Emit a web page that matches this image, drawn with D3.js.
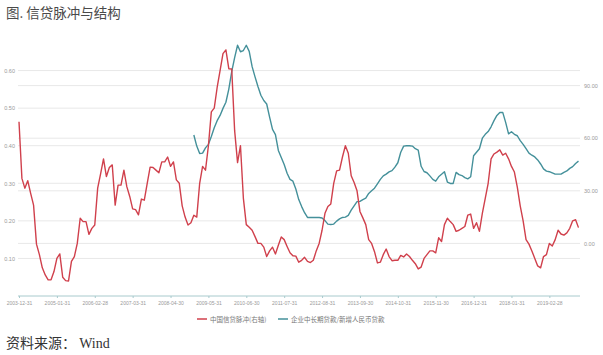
<!DOCTYPE html>
<html><head><meta charset="utf-8">
<script src="https://cdn.jsdelivr.net/npm/d3@7/dist/d3.min.js"></script>
<style>
html,body{margin:0;padding:0;background:#fff;}
svg{display:block;}
</style></head>
<body><svg id="c" width="603" height="355"></svg>
<script>
// ---- data ----
const startMonth = "2003-12-31";
const endMonth = "2019-12-31";
const tickLabels = ["2003-12-31","2005-01-31","2006-02-28","2007-03-31","2008-04-30","2009-05-31","2010-06-30","2011-07-31","2012-08-31","2013-09-30","2014-10-31","2015-11-30","2016-12-31","2018-01-31","2019-02-28"];
const leftTicks = [0.10,0.20,0.30,0.40,0.50,0.60];
const rightTicks = [0,30,60,90];
const creditImpulse = [
0.464,0.313,0.287,0.307,0.273,0.242,0.138,0.110,0.075,0.056,
0.043,0.043,0.065,0.100,0.112,0.050,0.041,0.040,0.092,0.105,
0.140,0.207,0.198,0.198,0.164,0.180,0.189,0.287,0.325,0.365,
0.318,0.342,0.349,0.242,0.295,0.295,0.335,0.291,0.265,0.232,
0.230,0.216,0.258,0.255,0.300,0.343,0.342,0.335,0.328,0.357,
0.357,0.370,0.345,0.357,0.309,0.300,0.240,0.210,0.189,0.195,
0.215,0.210,0.300,0.345,0.335,0.400,0.490,0.500,0.555,0.600,
0.645,0.655,0.605,0.604,0.440,0.355,0.400,0.260,0.190,0.183,
0.175,0.158,0.140,0.140,0.130,0.105,0.120,0.130,0.112,0.135,
0.157,0.150,0.132,0.115,0.107,0.106,0.090,0.095,0.103,0.092,
0.089,0.095,0.120,0.140,0.175,0.220,0.238,0.245,0.300,0.333,
0.335,0.370,0.400,0.380,0.320,0.302,0.280,0.225,0.208,0.190,
0.150,0.140,0.118,0.088,0.090,0.110,0.125,0.105,0.094,0.095,
0.095,0.108,0.104,0.112,0.105,0.095,0.086,0.072,0.077,0.100,
0.110,0.120,0.120,0.115,0.155,0.145,0.190,0.207,0.198,0.190,
0.172,0.175,0.180,0.185,0.215,0.218,0.180,0.195,0.172,0.220,
0.260,0.300,0.365,0.378,0.383,0.389,0.375,0.380,0.365,0.345,
0.330,0.290,0.240,0.200,0.150,0.138,0.120,0.100,0.080,0.075,
0.105,0.110,0.140,0.133,0.150,0.175,0.165,0.162,0.168,0.180,
0.200,0.203,0.182];
const corpLongShare = [
null,null,null,null,null,null,null,null,null,null,
null,null,null,null,null,null,null,null,null,null,
null,null,null,null,null,null,null,null,null,null,
null,null,null,null,null,null,null,null,null,null,
null,null,null,null,null,null,null,null,null,null,
null,null,null,null,null,null,null,null,null,null,
61.8,55.5,51.3,51.5,54.5,56.5,61.0,66.0,70.0,73.0,
77.0,80.5,88.0,98.0,106.0,113.0,109.3,110.0,113.0,109.5,
100.8,95.0,89.5,84.5,81.5,79.5,72.0,65.0,62.0,53.0,
49.0,45.0,40.0,36.5,35.5,31.0,25.0,21.0,17.5,14.8,
14.8,14.8,14.8,14.8,14.5,13.0,11.0,10.8,11.0,12.7,
14.0,14.8,15.0,16.0,19.0,21.4,23.8,24.0,25.0,25.8,
28.5,30.0,31.5,34.0,36.5,38.5,39.5,40.8,41.5,43.5,
46.0,52.0,55.5,55.7,55.7,55.5,54.0,53.2,44.0,41.0,
40.3,38.5,36.5,35.5,38.0,39.4,40.9,35.0,34.2,34.2,
40.5,39.2,38.7,37.5,36.8,38.0,50.0,52.0,54.0,60.0,
62.2,63.8,66.5,70.0,73.0,74.7,74.7,69.0,62.5,63.7,
62.2,61.4,58.6,56.5,54.0,51.5,50.3,49.3,47.6,45.3,
42.5,41.2,40.9,40.2,39.5,39.5,39.5,40.5,41.3,42.8,
43.8,45.6,46.9];
const seriesNames = ["中国信贷脉冲(右轴)","企业中长期贷款/新增人民币贷款"];
const colors = ["#d0404c","#44909a"];

// categories: month-end dates from startMonth to endMonth
const fmt = d3.timeFormat("%Y-%m-%d");
const parse = d3.timeParse("%Y-%m-%d");
const firstOfNext = d => d3.timeDay.offset(parse(d), 1);
const months = d3.timeMonth.range(firstOfNext(startMonth), d3.timeDay.offset(firstOfNext(endMonth), 1))
  .map(d => fmt(d3.timeDay.offset(d,-1)));

const svg = d3.select("#c");
const plotTop = 33, plotBottom = 296, plotLeft = 18, plotRight = 580;

const x = d3.scalePoint().domain(months).range([19, 578.5]);
const yL = d3.scaleLinear().domain([0, 0.7]).range([plotBottom, plotTop]);
const yR = d3.scaleLinear().domain([-30, 120]).range([plotBottom, plotTop]);

// title
svg.append("text").attr("x",6).attr("y",18).attr("font-family","'Noto Sans CJK SC'")
  .attr("font-size",13.5).attr("fill","#4a4a4a").text("图. 信贷脉冲与结构");

// gridlines
const g = svg.append("g");
leftTicks.forEach(t => g.append("line").attr("x1",plotLeft).attr("x2",plotRight)
  .attr("y1",yL(t)).attr("y2",yL(t)).attr("stroke","#e8e8e8").attr("stroke-width",1));
rightTicks.forEach(t => g.append("line").attr("x1",plotLeft).attr("x2",plotRight)
  .attr("y1",yR(t)).attr("y2",yR(t)).attr("stroke","#e8e8e8").attr("stroke-width",1));

// left axis
const axL = d3.axisLeft(yL).tickValues(leftTicks).tickFormat(d3.format(".2f")).tickSize(0).tickPadding(3);
const gl = svg.append("g").attr("transform",`translate(${plotLeft},0)`).call(axL);
gl.select(".domain").remove();
gl.selectAll("text").attr("font-family","'Liberation Sans'").attr("font-size",5.5).attr("fill","#999");

// right axis
const axR = d3.axisRight(yR).tickValues(rightTicks).tickFormat(d3.format(".2f")).tickSize(0).tickPadding(4);
const gr = svg.append("g").attr("transform",`translate(${plotRight},0)`).call(axR);
gr.select(".domain").remove();
gr.selectAll("text").attr("font-family","'Liberation Sans'").attr("font-size",5.5).attr("fill","#999");

// x axis
const axX = d3.axisBottom(x).tickValues(tickLabels).tickSize(2).tickPadding(3);
const gx = svg.append("g").attr("transform",`translate(0,${plotBottom})`).call(axX);
gx.select(".domain").attr("stroke","#a8cacd").attr("d",`M${plotLeft},0H${plotRight}`);
gx.selectAll(".tick line").attr("stroke","#a8cacd");
gx.selectAll("text").attr("font-family","'Liberation Sans'").attr("font-size",5).attr("fill","#999");

// lines
const lineL = d3.line().defined(d => d != null).x((d,i) => x(months[i])).y(d => yL(d));
const lineR = d3.line().defined(d => d != null).x((d,i) => x(months[i])).y(d => yR(d));
svg.append("path").datum(corpLongShare).attr("d",lineR).attr("fill","none")
  .attr("stroke",colors[1]).attr("stroke-width",1.4).attr("stroke-linejoin","round");
svg.append("path").datum(creditImpulse).attr("d",lineL).attr("fill","none")
  .attr("stroke",colors[0]).attr("stroke-width",1.4).attr("stroke-linejoin","round");

// legend
const lg = svg.append("g");
const legX = [197, 278];
seriesNames.forEach((n,i) => {
  lg.append("line").attr("x1",legX[i]).attr("x2",legX[i]+10).attr("y1",319).attr("y2",319)
    .attr("stroke",colors[i]).attr("stroke-width",1.5);
  lg.append("text").attr("x",legX[i]+13).attr("y",321.5).attr("font-family","'Noto Sans CJK SC'")
    .attr("font-size",6.5).attr("fill","#777").text(n);
});

// source
const src = svg.append("text").attr("x",6).attr("y",348).attr("font-size",14).attr("fill","#333");
src.append("tspan").attr("font-family","'Noto Sans CJK SC'").text("资料来源： ");
src.append("tspan").attr("font-family","'Liberation Serif'").text("Wind");
</script></body></html>
